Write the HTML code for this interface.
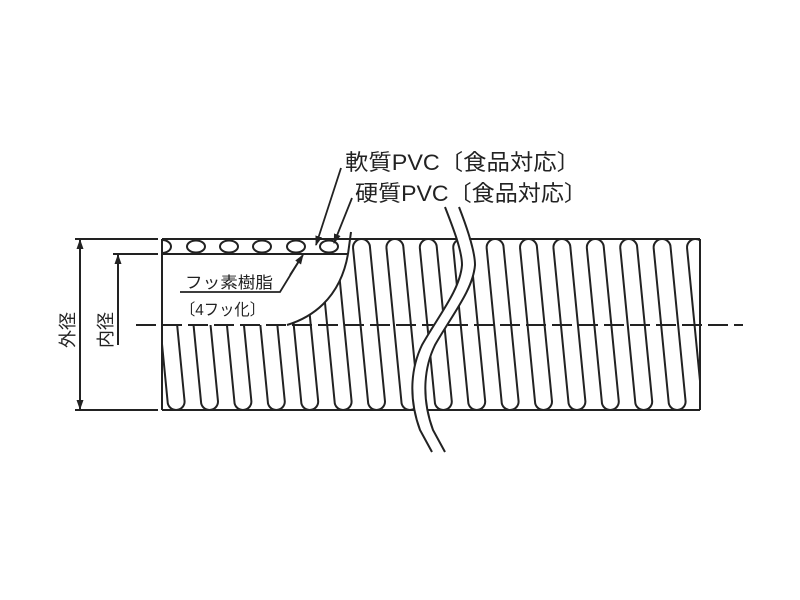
<!DOCTYPE html>
<html><head><meta charset="utf-8"><style>
html,body{margin:0;padding:0;background:#fff}
svg{display:block}
text{font-family:"Liberation Sans","Noto Sans CJK JP",sans-serif;fill:#222}
</style></head><body>
<svg width="800" height="600" viewBox="0 0 800 600" xmlns="http://www.w3.org/2000/svg">
<defs>
<clipPath id="c"><rect x="162" y="236" width="538" height="178"/></clipPath>
<marker id="a" markerWidth="10" markerHeight="10" refX="9" refY="5" orient="auto" markerUnits="userSpaceOnUse">
<path d="M0,1.5 L10,5 L0,8.5 Z" fill="#222"/></marker>
<path id="L" d="M0,247.5 L15,401.5 A8.5,8.5 0 0 0 32,401.5 L17,247.5 A8.5,8.5 0 0 0 0,247.5"/>
</defs>
<g stroke="#222" stroke-width="2" fill="none" clip-path="url(#c)">
<use href="#L" transform="translate(152.6,0)"/>
<use href="#L" transform="translate(186,0)"/>
<use href="#L" transform="translate(219.4,0)"/>
<use href="#L" transform="translate(252.8,0)"/>
<use href="#L" transform="translate(286.2,0)"/>
<use href="#L" transform="translate(319.6,0)"/>
<use href="#L" transform="translate(353,0)"/>
<use href="#L" transform="translate(386.4,0)"/>
<use href="#L" transform="translate(419.8,0)"/>
<use href="#L" transform="translate(453.2,0)"/>
<use href="#L" transform="translate(486.6,0)"/>
<use href="#L" transform="translate(520,0)"/>
<use href="#L" transform="translate(553.4,0)"/>
<use href="#L" transform="translate(586.8,0)"/>
<use href="#L" transform="translate(620.2,0)"/>
<use href="#L" transform="translate(653.6,0)"/>
<use href="#L" transform="translate(687,0)"/>
</g>
<path d="M162,237 L349,237 L349,254 C340,300 310,318 287,325 L162,325 Z" fill="#fff"/>
<g stroke="#222" stroke-width="2" fill="none">
<line x1="162" y1="239" x2="700" y2="239"/>
<line x1="162" y1="410" x2="700" y2="410"/>
<line x1="162" y1="239" x2="162" y2="410"/>
<line x1="700" y1="239" x2="700" y2="410"/>
<line x1="162" y1="254" x2="348" y2="254"/>
<line x1="351" y1="232" x2="348" y2="254"/>
<path d="M348,254 C340,300 310,318 287,325"/>
<path d="M162,240 A9,6.5 0 0 1 162,253"/>
<ellipse cx="196" cy="246.5" rx="9" ry="6"/>
<ellipse cx="229" cy="246.5" rx="9" ry="6"/>
<ellipse cx="262" cy="246.5" rx="9" ry="6"/>
<ellipse cx="296" cy="246.5" rx="9" ry="6"/>
<ellipse cx="329" cy="246.5" rx="9" ry="6"/>
<line x1="136" y1="325" x2="743" y2="325" stroke-dasharray="20,6"/>
<path d="M452,207 C458,225 468,250 468,265 C466,290 445,315 428,345 C416,370 415,400 426,430 L438,452" stroke="#fff" stroke-width="12"/>
<path d="M445,207 C452,225 462,250 462,265 C460,290 439,315 422,345 C410,370 409,400 420,430 L432,452"/>
<path d="M459,207 C466,225 475,250 475,265 C473,290 452,315 435,345 C423,370 422,400 433,430 L445,452"/>
<line x1="75" y1="239" x2="158" y2="239"/>
<line x1="75" y1="410" x2="158" y2="410"/>
<line x1="113" y1="254" x2="158" y2="254"/>
<line x1="80" y1="250" x2="80" y2="240" marker-end="url(#a)"/>
<line x1="80" y1="250" x2="80" y2="409" marker-end="url(#a)"/>
<line x1="118" y1="345" x2="118" y2="255" marker-end="url(#a)"/>
<line x1="341" y1="168" x2="316" y2="245" marker-end="url(#a)" stroke-width="1.8"/>
<line x1="352" y1="198" x2="334" y2="243" marker-end="url(#a)" stroke-width="1.8"/>
<polyline points="180,292 280,292 302,256" stroke-width="1.8"/>
<line x1="290" y1="275" x2="303" y2="255" marker-end="url(#a)" stroke-width="1.8"/>
</g>
<text x="345" y="170" font-size="22" textLength="235" lengthAdjust="spacingAndGlyphs">軟質PVC〔食品対応〕</text>
<text x="355" y="201" font-size="22" textLength="232" lengthAdjust="spacingAndGlyphs">硬質PVC〔食品対応〕</text>
<text x="185" y="288" font-size="16" textLength="88" lengthAdjust="spacingAndGlyphs">フッ素樹脂</text>
<text x="180" y="315" font-size="16" textLength="85" lengthAdjust="spacingAndGlyphs">〔4フッ化〕</text>
<text font-size="18" transform="translate(74,348) rotate(-90)">外径</text>
<text font-size="18" transform="translate(112,348) rotate(-90)">内径</text>
</svg>
</body></html>
